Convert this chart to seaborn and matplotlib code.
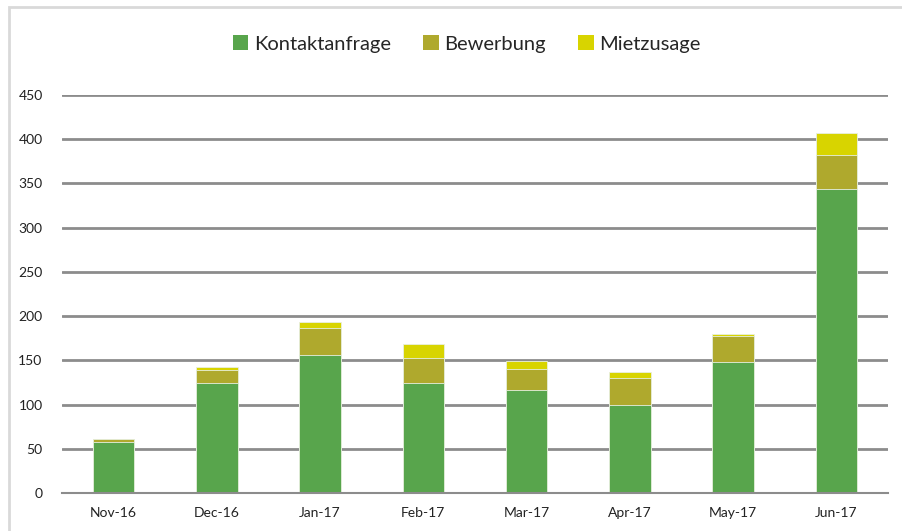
import matplotlib
matplotlib.use("Agg")
import matplotlib.pyplot as plt
import seaborn as sns
import numpy as np
import pandas as pd
from matplotlib.patches import Rectangle, Patch

months = ["Nov-16", "Dec-16", "Jan-17", "Feb-17", "Mar-17", "Apr-17", "May-17", "Jun-17"]
kontaktanfrage = [58, 124, 156, 124, 117, 100, 148, 344]
bewerbung = [3, 15, 30, 29, 23, 30, 29, 38]
mietzusage = [0, 4, 7, 16, 9, 7, 3, 25]
series_names = ["Kontaktanfrage", "Bewerbung", "Mietzusage"]
colors = ["#58A54C", "#AFA92D", "#D8D400"]
yticks = [0, 50, 100, 150, 200, 250, 300, 350, 400, 450]

sns.set_theme(style="white")
plt.rcParams["font.family"] = ["Lato", "DejaVu Sans"]

df = pd.DataFrame({"month": months, "K": kontaktanfrage, "B": bewerbung, "M": mietzusage})
df["KB"] = df["K"] + df["B"]
df["KBM"] = df["KB"] + df["M"]

fig = plt.figure(figsize=(9.03, 5.31), dpi=100)
fig.patches.append(Rectangle((9 / 903, -0.1), 1.2, 1 - 7 / 531 + 0.1, transform=fig.transFigure,
                             fill=False, edgecolor="#D9D9D9", linewidth=2, zorder=0))
ax = fig.add_axes([62 / 903, (531 - 493) / 531, (888 - 62) / 903, (493 - 95) / 531])

for col, c in zip(["KBM", "KB", "K"], [colors[2], colors[1], colors[0]]):
    sns.barplot(data=df, x="month", y=col, color=c, saturation=1, width=0.4,
                edgecolor="#e8f0e0", linewidth=0.6, ax=ax, zorder=3)

ax.set_ylim(0, 450)
ax.set_xlim(-0.5, len(months) - 0.5)
ax.set_yticks(yticks)
ax.set_yticklabels([str(v) for v in yticks], fontsize=10, color="#222222")
ax.set_xticks(range(len(months)))
ax.set_xticklabels(months, fontsize=10, color="#222222")
ax.set_xlabel("")
ax.set_ylabel("")
ax.yaxis.grid(True, color="#8C8C8C", linewidth=2)
ax.set_axisbelow(True)
ax.tick_params(axis="y", length=0, pad=14)
ax.tick_params(axis="x", which="major", length=0, pad=10)
ax.set_xticks(np.arange(-0.5, len(months)), minor=True)
ax.tick_params(axis="x", which="minor", length=5, width=1.2, color="#8C8C8C", direction="out")
for s in ["top", "right", "left"]:
    ax.spines[s].set_visible(False)
ax.spines["bottom"].set_color("#8C8C8C")
ax.spines["bottom"].set_linewidth(1.5)
ax.spines["bottom"].set_zorder(4)

handles = [Patch(facecolor=c, edgecolor="none") for c in colors]
fig.legend(handles, series_names, loc="center", bbox_to_anchor=(467 / 903, 1 - 44 / 531),
           ncol=3, frameon=False, fontsize=14.5, handlelength=0.75, handleheight=0.75,
           handletextpad=0.3, columnspacing=1.6)

fig.savefig("out.png", dpi=100)
